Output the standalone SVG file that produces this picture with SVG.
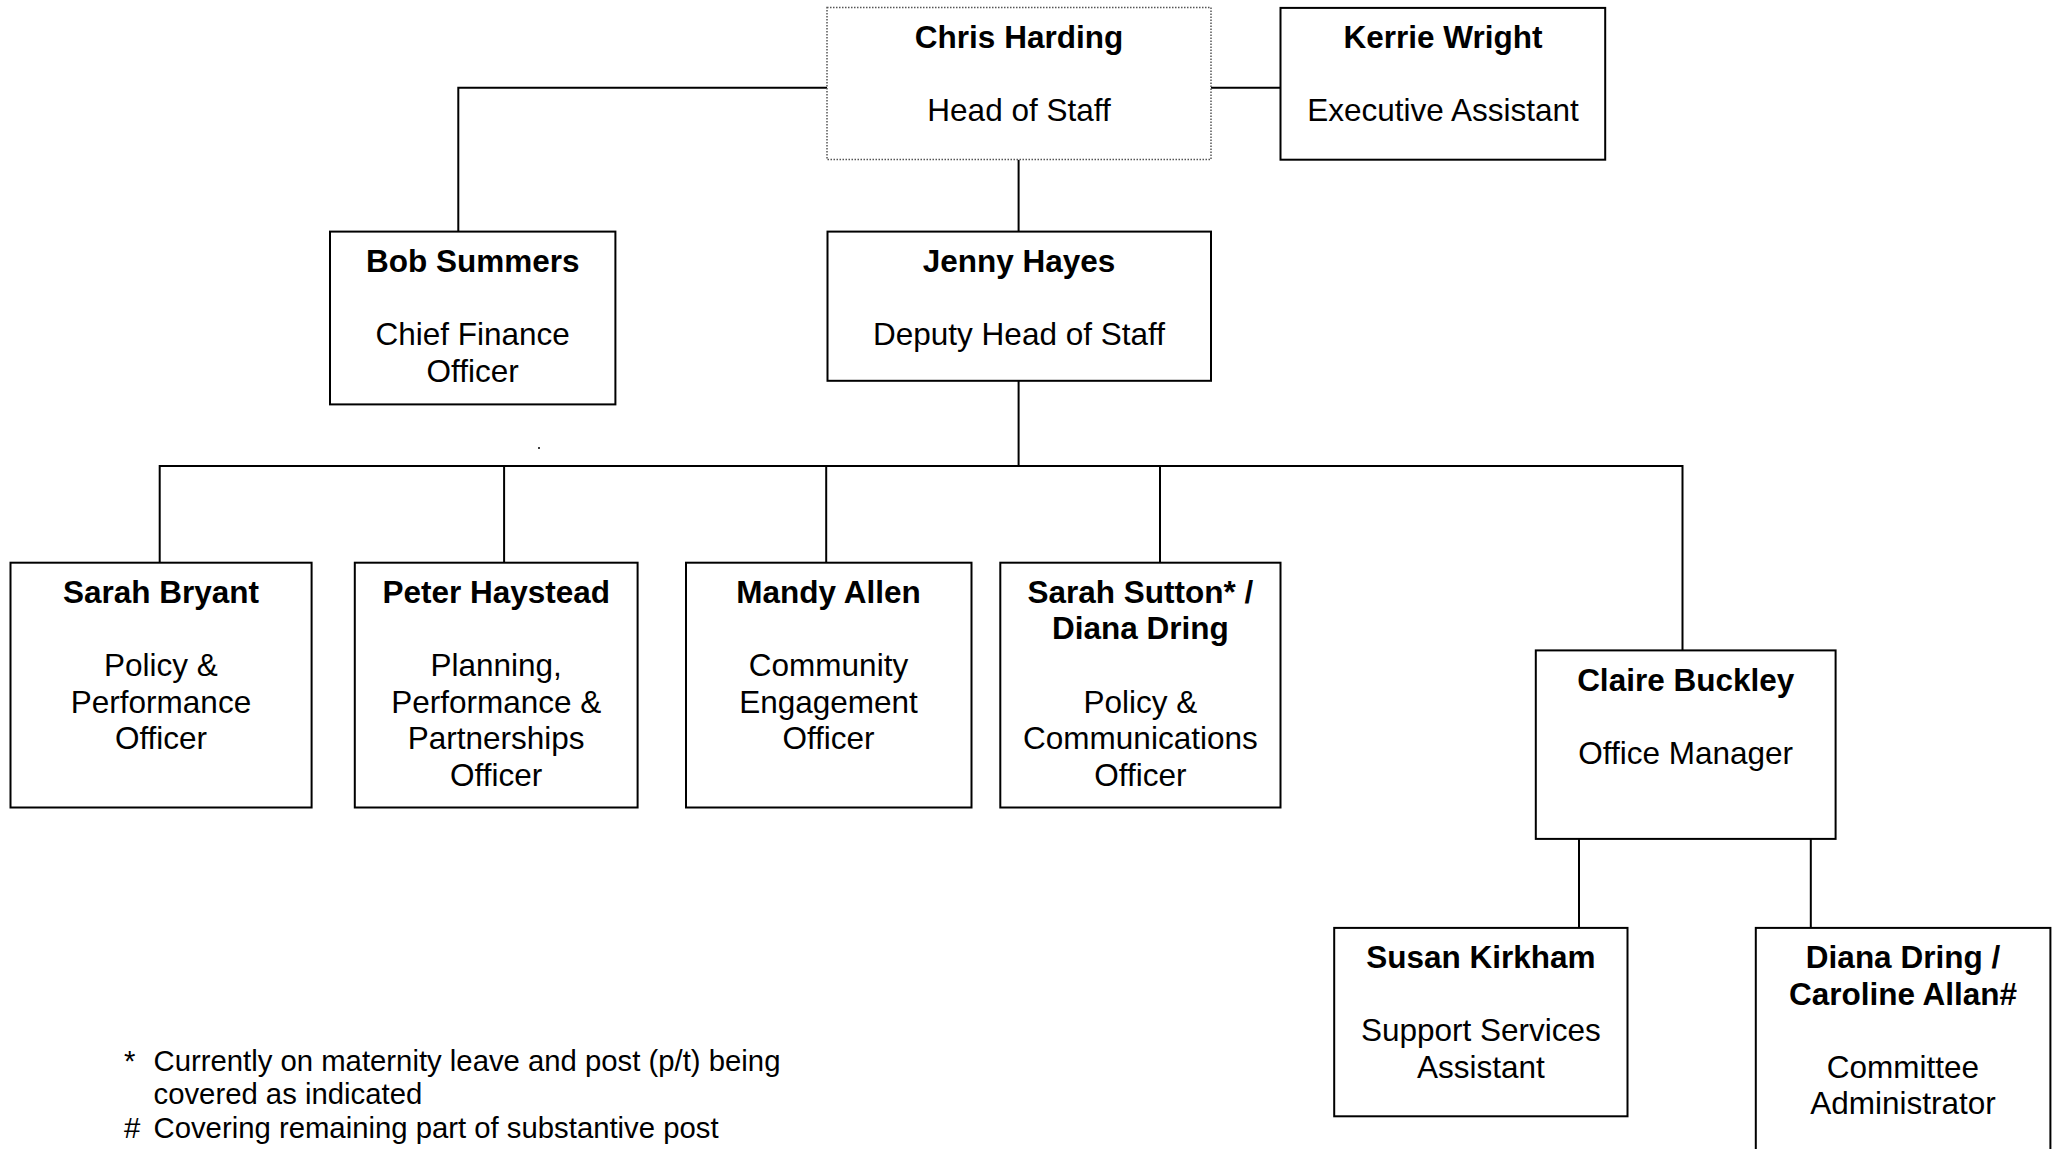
<svg xmlns="http://www.w3.org/2000/svg" width="2053" height="1149" viewBox="0 0 2053 1149">
<style>
.box{fill:#fff;stroke:#000;stroke-width:2}
.dotbox{fill:#fff;stroke:#555;stroke-width:1.5;stroke-dasharray:1.5 1.5}
.ln{fill:none;stroke:#000;stroke-width:2}
text{font-family:"Liberation Sans",Arial,sans-serif;font-size:31.5px;text-anchor:middle;fill:#000}
.b{font-weight:bold}
.fn{font-size:29.3px;text-anchor:start}
</style>
<rect width="2053" height="1149" fill="#fff"/>
<g id="connectors">
<polyline class="ln" points="827,87.7 458.3,87.7 458.3,231.6"/>
<line class="ln" x1="1211" y1="87.7" x2="1280.5" y2="87.7"/>
<line class="ln" x1="1018.6" y1="159.7" x2="1018.6" y2="231.6"/>
<line class="ln" x1="1018.6" y1="380.8" x2="1018.6" y2="466"/>
<polyline class="ln" points="159.7,562.7 159.7,466 1682.5,466 1682.5,650.4"/>
<line class="ln" x1="504.1" y1="466" x2="504.1" y2="562.7"/>
<line class="ln" x1="826.2" y1="466" x2="826.2" y2="562.7"/>
<line class="ln" x1="1160" y1="466" x2="1160" y2="562.7"/>
<line class="ln" x1="1579" y1="838.9" x2="1579" y2="927.9"/>
<line class="ln" x1="1810.8" y1="838.9" x2="1810.8" y2="927.9"/>
</g>
<g id="chris-harding">
<rect class="dotbox" x="827" y="7.6" width="384" height="152"/>
<text class="b" x="1019" y="47.9">Chris Harding</text>
<text x="1019" y="121.2">Head of Staff</text>
</g>
<g id="kerrie-wright">
<rect class="box" x="1280.5" y="7.9" width="324.7" height="151.8"/>
<text class="b" x="1443" y="47.9">Kerrie Wright</text>
<text x="1443" y="121.2">Executive Assistant</text>
</g>
<g id="bob-summers">
<rect class="box" x="330" y="231.6" width="285.4" height="172.8"/>
<text class="b" x="472.7" y="271.7">Bob Summers</text>
<text x="472.7" y="344.9">Chief Finance</text>
<text x="472.7" y="381.5">Officer</text>
</g>
<g id="jenny-hayes">
<rect class="box" x="827.5" y="231.6" width="383.5" height="149.2"/>
<text class="b" x="1019" y="271.7">Jenny Hayes</text>
<text x="1019" y="344.9">Deputy Head of Staff</text>
</g>
<circle cx="539" cy="448" r="1" fill="#000"/>
<g id="sarah-bryant">
<rect class="box" x="10.5" y="562.7" width="301.1" height="244.8"/>
<text class="b" x="161" y="602.8">Sarah Bryant</text>
<text x="161" y="676">Policy &amp;</text>
<text x="161" y="712.6">Performance</text>
<text x="161" y="749.2">Officer</text>
</g>
<g id="peter-haystead">
<rect class="box" x="354.8" y="562.7" width="282.8" height="244.8"/>
<text class="b" x="496.2" y="602.8">Peter Haystead</text>
<text x="496.2" y="676">Planning,</text>
<text x="496.2" y="712.6">Performance &amp;</text>
<text x="496.2" y="749.2">Partnerships</text>
<text x="496.2" y="785.8">Officer</text>
</g>
<g id="mandy-allen">
<rect class="box" x="686" y="562.7" width="285.5" height="244.8"/>
<text class="b" x="828.5" y="602.8">Mandy Allen</text>
<text x="828.5" y="676">Community</text>
<text x="828.5" y="712.6">Engagement</text>
<text x="828.5" y="749.2">Officer</text>
</g>
<g id="sarah-sutton">
<rect class="box" x="1000.3" y="562.7" width="280.2" height="244.8"/>
<text class="b" x="1140.4" y="602.8">Sarah Sutton* /</text>
<text class="b" x="1140.4" y="639.4">Diana Dring</text>
<text x="1140.4" y="712.6">Policy &amp;</text>
<text x="1140.4" y="749.2">Communications</text>
<text x="1140.4" y="785.8">Officer</text>
</g>
<g id="claire-buckley">
<rect class="box" x="1535.8" y="650.4" width="299.8" height="188.5"/>
<text class="b" x="1685.7" y="690.5">Claire Buckley</text>
<text x="1685.7" y="763.7">Office Manager</text>
</g>
<g id="susan-kirkham">
<rect class="box" x="1334.2" y="927.9" width="293.3" height="188.4"/>
<text class="b" x="1480.9" y="968">Susan Kirkham</text>
<text x="1480.9" y="1041.2">Support Services</text>
<text x="1480.9" y="1077.8">Assistant</text>
</g>
<g id="diana-dring">
<rect class="box" x="1755.8" y="927.9" width="294.6" height="240"/>
<text class="b" x="1903" y="968">Diana Dring /</text>
<text class="b" x="1903" y="1004.6">Caroline Allan#</text>
<text x="1903" y="1077.8">Committee</text>
<text x="1903" y="1114.4">Administrator</text>
</g>
<g id="footnotes">
<text class="fn" x="124" y="1070.5">*</text>
<text class="fn" x="153.5" y="1070.5">Currently on maternity leave and post (p/t) being</text>
<text class="fn" x="153.5" y="1104.2">covered as indicated</text>
<text class="fn" x="124" y="1137.9">#</text>
<text class="fn" x="153.5" y="1137.9">Covering remaining part of substantive post</text>
</g>
</svg>
